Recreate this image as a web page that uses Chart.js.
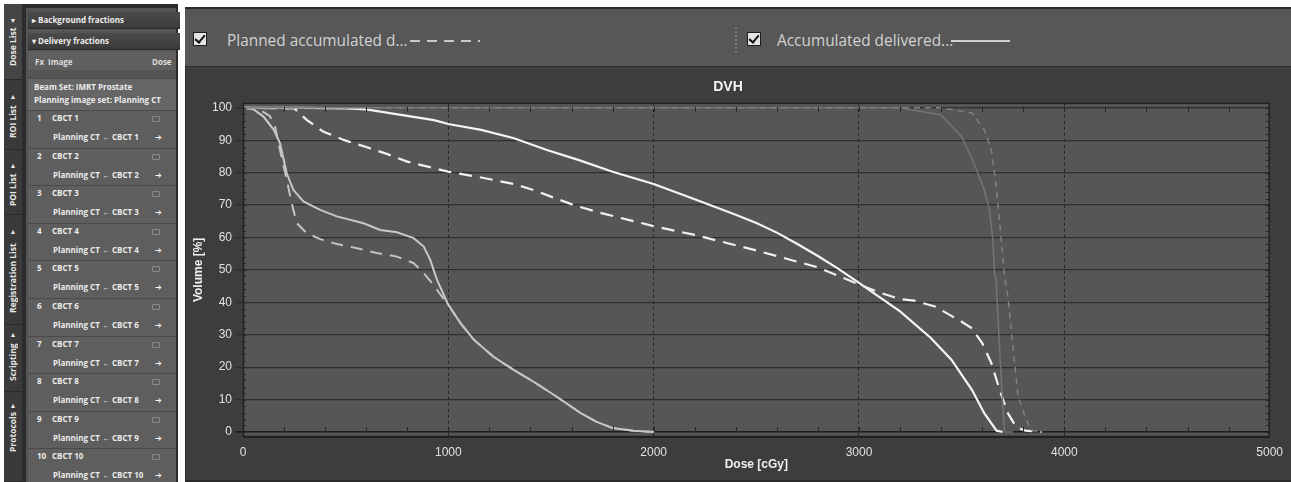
<!DOCTYPE html>
<html>
<head>
<meta charset="utf-8">
<script src="https://cdn.jsdelivr.net/npm/chart.js@4.4.1/dist/chart.umd.min.js"></script>
<style>
  html, body { margin:0; padding:0; width:1291px; height:482px; overflow:hidden; background:#ffffff;
    font-family:"Open Sans","Noto Sans",sans-serif; }
  .abs { position:absolute; }
  #side { left:4px; top:4px; width:174px; height:478px; background:#2c2c2c; }
  #tabs { left:4px; top:4px; width:18px; height:478px; background:#3a3a3a; }
  .tabseg { left:4px; width:18px; border-bottom:1px solid #2a2a2a; }
  .tab { left:4px; width:18px; color:#e6e6e6; font-weight:700; font-size:8.5px; writing-mode:vertical-rl;
    transform:rotate(180deg); text-align:center; white-space:nowrap; line-height:18px; }
  .arrow { left:4px; width:18px; text-align:center; color:#e6e6e6; font-size:7px; line-height:8px; }
  #list { left:26px; top:8px; width:150px; height:474px; background:#555555; overflow:hidden; }
  .bar { left:28px; width:148px; height:16px; background:linear-gradient(#4b4b4b,#3b3b3b);
    border-bottom:1px solid #2a2a2a; color:#ededed; font-size:8px; font-weight:700; line-height:16px; white-space:nowrap; }
  .row { left:28px; width:148px; background:#5e5e5e; border-top:1px solid #4a4a4a; }
  .txt { color:#ececec; font-size:8px; font-weight:700; white-space:nowrap; line-height:10px; }
  .ico1 { width:6px; height:4px; border:1px solid #8a8a8a; border-radius:1px; }
  .ico2 { color:#f4f4f4; font-size:8px; line-height:10px; }

  #hdr { left:185px; top:7px; width:1106px; height:57px; background:#575757;
    border-top:2px solid #2a2a2a; border-bottom:1px solid #2b2b2b; }
  .chk { width:12px; height:12px; background:#e4e4e4; border:1px solid #1e1e1e; }
  .chk::after { content:""; position:absolute; left:3px; top:0px; width:4px; height:8px;
    border-right:2px solid #111; border-bottom:2px solid #111; transform:rotate(40deg); }
  .legtxt { color:#d2d2d2; font-size:15.4px; line-height:20px; white-space:nowrap; }
  #chartbox { left:185px; top:67px; width:1105px; height:413px; background:#3d3d3d;
    border-left:1px solid #2a2a2a; border-bottom:2px solid #2a2a2a; }
  #dvh { position:absolute; left:186px; top:68px; }
</style>
</head>
<body>
<div id="side" class="abs"></div>
<div id="tabs" class="abs"></div>
<div id="list" class="abs"></div>

<div id="hdr" class="abs"></div>
<div class="abs chk" style="left:193px;top:32px;"></div>
<div class="abs legtxt" style="left:227px;top:31px;">Planned accumulated d...</div>
<canvas id="legDash" class="abs" width="80" height="6" style="left:410px;top:38px;"></canvas>
<div class="abs" style="left:735px;top:27px;height:26px;border-left:2px dotted #7a7a7a;"></div>
<div class="abs chk" style="left:747px;top:32px;"></div>
<div class="abs legtxt" style="left:777px;top:31px;">Accumulated delivered...</div>
<div class="abs" style="left:951px;top:40px;width:59px;height:2px;background:#d0d0d0;"></div>

<div id="chartbox" class="abs"></div>
<canvas id="dvh" width="1105" height="412"></canvas>

<script>
// ---- Dose-volume histogram curves (dose in cGy, volume in %) ----
// Structure A: planned (dashed) vs accumulated delivered (solid)
const doseA_planned = [0, 250, 310, 390, 490, 600, 700, 800, 1000, 1160, 1320, 1416, 1500, 1620, 1740, 2000, 2200, 2500, 2800, 3000, 3100, 3200, 3270, 3370, 3500, 3550, 3600, 3645, 3685, 3725, 3765, 3810, 3850, 3890];
const volA_planned  = [100, 99.8, 96.3, 92.7, 90.1, 87.9, 85.8, 83.4, 80.3, 78.5, 76.5, 74.6, 72.6, 69.8, 67.6, 63.5, 60.8, 56, 50.8, 45.5, 43, 41, 40.5, 38.7, 34, 32, 27.4, 21.2, 13, 5.8, 1.6, 0.4, 0.2, 0];
const doseA_delivered = [0, 300, 500, 600, 800, 930, 1000, 1160, 1320, 1480, 1640, 1800, 2000, 2200, 2400, 2500, 2600, 2700, 2800, 2900, 3000, 3100, 3200, 3350, 3450, 3550, 3610, 3670, 3700];
const volA_delivered  = [100, 100, 99.8, 99.5, 97.5, 96.2, 95, 93.2, 90.6, 87, 83.8, 80.3, 76.5, 71.8, 67, 64.5, 61.5, 58, 54.3, 50.3, 46, 41.6, 37.2, 29, 22.3, 13, 5.8, 0.4, 0];

// Structure B
const doseB_planned = [0, 80, 130, 156, 180, 213, 237, 262, 311, 376, 457, 555, 652, 750, 831, 880, 928, 960, 1000, 1060, 1125, 1220, 1320, 1415, 1515, 1645, 1720, 1800, 1900, 2000];
const volB_planned  = [100, 99.5, 97.5, 94.2, 87, 77.8, 70.6, 64.4, 61.3, 59.5, 58, 56.7, 55.2, 54.1, 52.1, 49, 45.4, 42.5, 39.2, 33.5, 28.4, 23.2, 19.1, 15.5, 11.4, 5.8, 3.2, 1.2, 0.4, 0];
const doseB_delivered = [0, 50, 100, 150, 180, 213, 245, 294, 376, 457, 587, 668, 750, 831, 880, 912, 945, 1000, 1060, 1125, 1220, 1320, 1415, 1515, 1645, 1720, 1800, 1900, 2000];
const volB_delivered  = [100, 99.6, 97.3, 93.2, 89.1, 79.8, 74.7, 71.1, 68.5, 66.5, 64.4, 62.3, 61.6, 59.8, 57.2, 53.1, 46.9, 39.2, 33.5, 28.4, 23.2, 19.1, 15.5, 11.4, 5.8, 3.2, 1.2, 0.4, 0];

// Structure C (target)
const doseC_planned = [0, 3400, 3550, 3610, 3645, 3668, 3693, 3709, 3725, 3750, 3775, 3815, 3840, 3890];
const volC_planned  = [100, 100, 98.4, 93.2, 87, 75.7, 59.3, 47.9, 41.8, 26.3, 10.9, 3.7, 0.5, 0];
const doseC_delivered = [0, 3200, 3400, 3500, 3560, 3610, 3635, 3652, 3660, 3668, 3676, 3693, 3709, 3750];
const volC_delivered  = [100, 100, 97.8, 91.1, 82.9, 74.7, 68.5, 59.3, 49, 46.9, 36.6, 16, 0, 0];

// Axis ticks
const doseTicks = [0, 1000, 2000, 3000, 4000, 5000];
const volumeTicks = [0, 10, 20, 30, 40, 50, 60, 70, 80, 90, 100];

// ---- Side panel contents ----
const sideTabs = [
  { text: 'Dose List', center: 47, arrow: 21, glyph: '▼' },
  { text: 'ROI List', center: 122, arrow: 97, glyph: '▲' },
  { text: 'POI List', center: 190, arrow: 166, glyph: '▲' },
  { text: 'Registration List', center: 278, arrow: 232, glyph: '▲' },
  { text: 'Scripting', center: 362, arrow: 335, glyph: '▲' },
  { text: 'Protocols', center: 432, arrow: 406, glyph: '▲' }
];
const fractionImages = ['CBCT 1','CBCT 2','CBCT 3','CBCT 4','CBCT 5','CBCT 6','CBCT 7','CBCT 8','CBCT 9','CBCT 10'];

function el(cls, style, text) {
  const d = document.createElement('div');
  d.className = 'abs ' + cls;
  d.setAttribute('style', style);
  if (text !== undefined) d.textContent = text;
  document.body.appendChild(d);
  return d;
}

// tab strip segments and rotated labels
const segEdges = [4, 80, 150, 215, 325, 392, 482];
for (let i = 0; i < segEdges.length - 1; i++) {
  el('tabseg', `top:${segEdges[i]}px;height:${segEdges[i+1]-segEdges[i]-1}px;background:${i === 0 ? '#454545' : '#3a3a3a'};`);
}
sideTabs.forEach(t => {
  const h = 110;
  el('tab', `top:${t.center - h/2}px;height:${h}px;`, t.text);
  el('arrow', `top:${t.arrow - 4}px;`, t.glyph);
});

// list headers
el('bar', 'top:12px;', '  ▸  Background fractions').style.paddingLeft = '4px';
el('bar', 'top:33px;', '  ▾  Delivery fractions').style.paddingLeft = '4px';
el('row', 'top:51px;height:19px;background:#5f5f5f;border-top:none;');
el('txt', 'left:35px;top:57px;color:#dcdcdc;', 'Fx');
el('txt', 'left:48px;top:57px;color:#dcdcdc;', 'Image');
el('txt', 'left:152px;top:57px;color:#dcdcdc;width:24px;overflow:hidden;', 'Dose');
el('row', 'top:78px;height:31px;background:#666666;border-top:1px solid #4c4c4c;');
el('txt', 'left:34px;top:82px;', 'Beam Set: IMRT Prostate');
el('txt', 'left:34px;top:95px;', 'Planning image set: Planning CT');

fractionImages.forEach((name, i) => {
  const top = 110 + i * 37.6;
  el('row', `top:${top}px;height:36.6px;`);
  el('txt', `left:37px;top:${top + 3}px;`, String(i + 1));
  el('txt', `left:52px;top:${top + 3}px;`, name);
  el('ico1', `left:152px;top:${top + 6}px;`);
  el('txt', `left:53px;top:${top + 22}px;`, 'Planning CT \u2190 ' + name);
  el('ico2', `left:155px;top:${top + 22}px;`, '\u2794');
});

// legend line sample for the planned series
(function () {
  const c = document.getElementById('legDash').getContext('2d');
  c.strokeStyle = '#c8c8c8'; c.lineWidth = 2; c.setLineDash([10, 7]);
  c.beginPath(); c.moveTo(0, 3); c.lineTo(70, 3); c.stroke();
})();

// ---- Chart ----
const pts = (xs, ys) => xs.map((x, i) => ({ x: x, y: ys[i] }));

const backdrop = {
  id: 'backdrop',
  beforeDraw(chart) {
    const { ctx, chartArea: a } = chart;
    ctx.save();
    ctx.fillStyle = '#3d3d3d';
    ctx.fillRect(0, 0, chart.width, chart.height);
    ctx.fillStyle = '#565656';
    ctx.fillRect(a.left, a.top, a.right - a.left, a.bottom - a.top);
    ctx.restore();
  }
};

// frame around the plot plus the small inner tick marks
const frameTicks = {
  id: 'frameTicks',
  afterDatasetsDraw(chart) {
    const { ctx, chartArea: a, scales: { x, y } } = chart;
    ctx.save();
    ctx.strokeStyle = '#262626';
    ctx.lineWidth = 1;
    const y0 = y.getPixelForValue(0), y100 = y.getPixelForValue(100);
    ctx.beginPath();
    for (let d = 200; d < 5000; d += 200) {
      const px = Math.round(x.getPixelForValue(d)) + 0.5;
      ctx.moveTo(px, y0); ctx.lineTo(px, y0 - 5);
      ctx.moveTo(px, y100 - 1); ctx.lineTo(px, y100 + 4);
    }
    for (let v = 0; v <= 100; v += 2) {
      const py = Math.round(y.getPixelForValue(v)) + 0.5;
      ctx.moveTo(a.left, py); ctx.lineTo(a.left + 3, py);
      ctx.moveTo(a.right - 4, py); ctx.lineTo(a.right, py);
    }
    ctx.stroke();
    ctx.lineWidth = 1.5;
    ctx.strokeStyle = '#222222';
    ctx.strokeRect(a.left + 0.5, a.top + 0.5, a.right - a.left - 1, a.bottom - a.top - 1);
    ctx.restore();
  }
};

const tickFont = { family: '"Liberation Sans", Arial, sans-serif', size: 12 };
const titleFont = { family: '"Liberation Sans", Arial, sans-serif', size: 12, weight: 'bold' };

new Chart(document.getElementById('dvh'), {
  type: 'scatter',
  data: {
    datasets: [
      { label: 'C planned', data: pts(doseC_planned, volC_planned), borderColor: '#808080', borderWidth: 1.5, borderDash: [6, 5] },
      { label: 'C delivered', data: pts(doseC_delivered, volC_delivered), borderColor: '#747474', borderWidth: 1.5 },
      { label: 'B planned', data: pts(doseB_planned, volB_planned), borderColor: '#c4c4c4', borderWidth: 2, borderDash: [12, 8] },
      { label: 'B delivered', data: pts(doseB_delivered, volB_delivered), borderColor: '#c8c8c8', borderWidth: 2 },
      { label: 'A planned', data: pts(doseA_planned, volA_planned), borderColor: '#f0f0f0', borderWidth: 2.2, borderDash: [13, 8] },
      { label: 'A delivered', data: pts(doseA_delivered, volA_delivered), borderColor: '#f4f4f4', borderWidth: 2.2 }
    ].map(ds => Object.assign(ds, { showLine: true, pointRadius: 0, tension: 0, fill: false }))
  },
  options: {
    responsive: false,
    animation: false,
    devicePixelRatio: 1,
    layout: { padding: { left: 0, right: 21, top: 0, bottom: 0 } },
    plugins: {
      legend: { display: false },
      tooltip: { enabled: false },
      title: { display: true, text: 'DVH', color: '#f2f2f2',
        font: { family: '"Liberation Sans", Arial, sans-serif', size: 14, weight: 'bold' },
        padding: { top: 11, bottom: 7 } }
    },
    scales: {
      x: {
        type: 'linear', min: 0, max: 5000,
        afterBuildTicks: s => { s.ticks = doseTicks.map(v => ({ value: v })); },
        afterFit: s => { s.height = 43; },
        grid: {
          drawTicks: false,
          color: c => (c.tick && (c.tick.value === 0 || c.tick.value === 5000)) ? 'rgba(0,0,0,0)' : '#232323',
          lineWidth: 1
        },
        border: { display: true, color: '#222222', width: 1, dash: [3, 3] },
        ticks: { color: '#e2e2e2', font: tickFont, padding: 8, maxRotation: 0, callback: v => String(v) },
        title: { display: true, text: 'Dose [cGy]', color: '#f0f0f0', font: titleFont, padding: { top: 0, bottom: 8 } }
      },
      y: {
        type: 'linear', min: -1.55, max: 101.55,
        afterBuildTicks: s => { s.ticks = volumeTicks.map(v => ({ value: v })); },
        afterFit: s => { s.width = 57; },
        grid: {
          drawTicks: true, tickLength: 8,
          color: c => (c.tick && c.tick.value === 0) ? '#1c1c1c' : '#2e2e2e',
          lineWidth: c => (c.tick && c.tick.value === 0) ? 1.6 : 1.2
        },
        border: { display: false },
        ticks: { color: '#e2e2e2', font: tickFont, padding: 3, callback: v => String(v) },
        title: { display: true, text: 'Volume [%]', color: '#f0f0f0', font: titleFont, padding: { top: 5, bottom: 0 } }
      }
    }
  },
  plugins: [backdrop, frameTicks]
});
</script>
</body>
</html>
